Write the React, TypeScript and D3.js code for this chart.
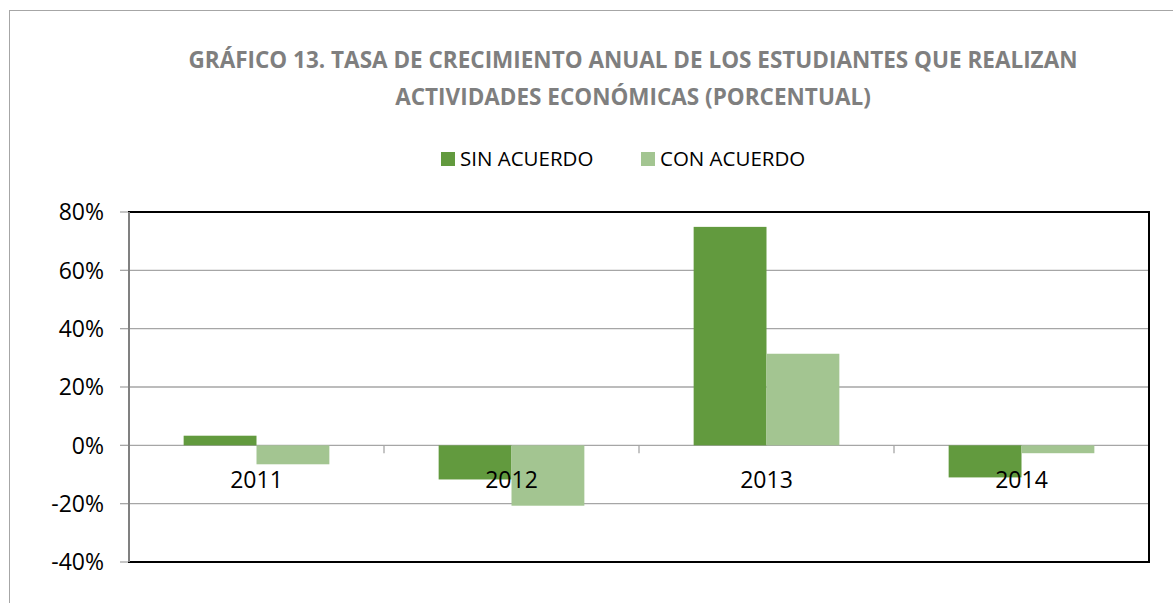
import React from "react";
import * as d3 from "d3";

const categories = ["2011", "2012", "2013", "2014"];
const seriesNames = ["SIN ACUERDO", "CON ACUERDO"];
const sinAcuerdo = [3.3, -11.7, 74.9, -11.0];
const conAcuerdo = [-6.5, -20.7, 31.4, -2.7];
const yTicks = [-40, -20, 0, 20, 40, 60, 80];
const colors = ["#629A3E", "#A3C591"];

const W = 1173;
const H = 603;
const plot = { left: 129, top: 212, right: 1149, bottom: 562 };
const FONT = "'Open Sans', sans-serif";

export default function App() {
  const x0 = d3.scaleBand<string>().domain(categories).range([plot.left, plot.right]).padding(0);
  const x1 = d3
    .scaleBand<string>()
    .domain(seriesNames)
    .range([0, x0.bandwidth()])
    .paddingInner(0)
    .paddingOuter(0.75);
  const y = d3.scaleLinear().domain([-40, 80]).range([plot.bottom, plot.top]);
  const data = [sinAcuerdo, conAcuerdo];
  const y0 = y(0);

  return (
    <svg width={W} height={H} style={{ position: "absolute", left: 0, top: 0 }} fontFamily={FONT}>
      <rect x={0} y={0} width={W} height={H} fill="#fff" />
      {/* outer chart border */}
      <rect x={9.5} y={10.5} width={W + 10} height={H + 10} fill="none" stroke="#A6A6A6" strokeWidth={1} />
      {/* title */}
      <text x={633} y={68} textAnchor="middle" fontSize={22.5} fontWeight="bold" fill="#7F7F7F">
        GRÁFICO 13. TASA DE CRECIMIENTO ANUAL DE LOS ESTUDIANTES QUE REALIZAN
      </text>
      <text x={633} y={105} textAnchor="middle" fontSize={22.5} fontWeight="bold" fill="#7F7F7F">
        ACTIVIDADES ECONÓMICAS (PORCENTUAL)
      </text>
      {/* legend */}
      {seriesNames.map((s, i) => {
        const lx = [441, 641][i];
        return (
          <g key={s}>
            <rect x={lx} y={152} width={14} height={14} fill={colors[i]} />
            <text x={lx + 19} y={166} fontSize={20.5} fill="#000">
              {s}
            </text>
          </g>
        );
      })}
      {/* gridlines */}
      {yTicks.map((t) => (
        <line key={t} x1={plot.left} x2={plot.right} y1={y(t)} y2={y(t)} stroke="#A6A6A6" strokeWidth={1.3} />
      ))}
      {/* y ticks and labels */}
      {yTicks.map((t) => (
        <g key={"yt" + t}>
          <line x1={120} x2={plot.left} y1={y(t)} y2={y(t)} stroke="#A6A6A6" strokeWidth={1.3} />
          <text x={104} y={y(t)} dy="0.36em" textAnchor="end" fontSize={23} fill="#000">
            {t}%
          </text>
        </g>
      ))}
      {/* bars */}
      {categories.map((c, ci) => (
        <g key={c} transform={`translate(${x0(c)},0)`}>
          {seriesNames.map((s, si) => {
            const v = data[si][ci];
            const yv = y(v);
            return (
              <rect
                key={s}
                x={x1(s)}
                width={x1.bandwidth()}
                y={Math.min(yv, y0)}
                height={Math.abs(yv - y0)}
                fill={colors[si]}
              />
            );
          })}
        </g>
      ))}
      {/* category ticks at zero line */}
      {categories.slice(1).map((c) => (
        <line key={"ct" + c} x1={x0(c)} x2={x0(c)} y1={y0} y2={y0 + 8} stroke="#A6A6A6" strokeWidth={1.3} />
      ))}
      {/* category labels */}
      {categories.map((c) => (
        <text key={"cl" + c} x={(x0(c) as number) + x0.bandwidth() / 2} y={y0 + 43} textAnchor="middle" fontSize={23} fill="#000">
          {c}
        </text>
      ))}
      {/* plot border */}
      <rect
        x={plot.left}
        y={plot.top}
        width={plot.right - plot.left}
        height={plot.bottom - plot.top}
        fill="none"
        stroke="#000"
        strokeWidth={2}
      />
      <line x1={plot.left} x2={plot.left} y1={plot.top} y2={plot.bottom} stroke="#808080" strokeWidth={2} />
    </svg>
  );
}
